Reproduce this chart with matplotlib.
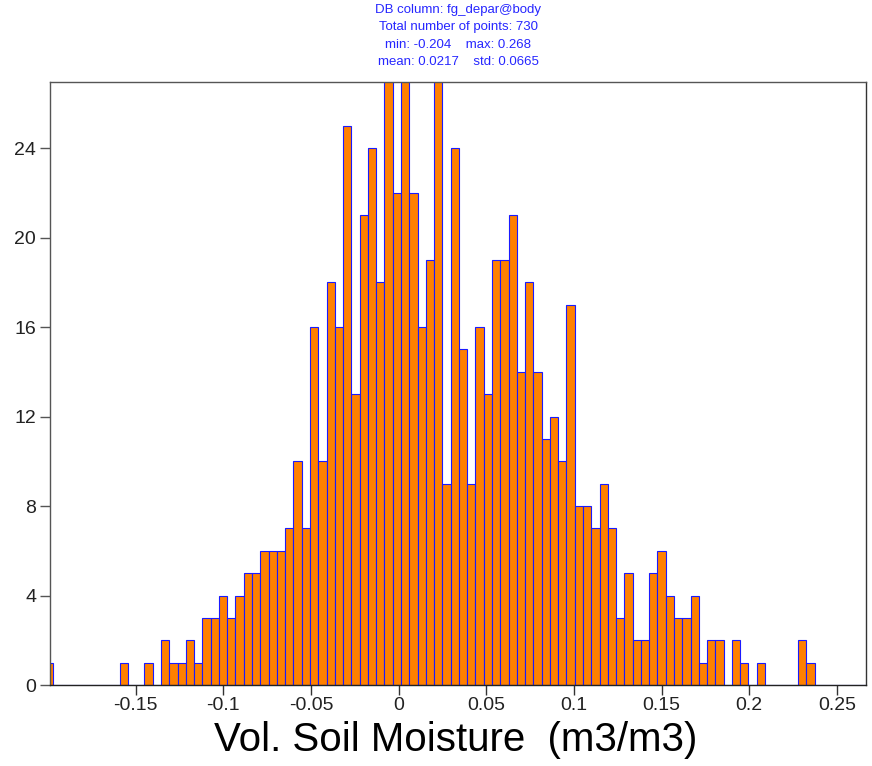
import matplotlib
matplotlib.use("Agg")
import matplotlib.pyplot as plt
from matplotlib import font_manager

# ---- data ----
x_min = -0.204
bin_width = 0.00472
counts = [0, 1, 0, 0, 0, 0, 0, 0, 0, 0,      # k0..k9
          1, 0, 0, 1, 0, 2, 1, 1, 2, 1,      # k10..k19
          3, 3, 4, 3, 4, 5, 5, 6, 6, 6,      # k20..k29
          7, 10, 7, 16, 10, 18, 16, 25, 13, 21,   # k30..k39
          24, 18, 27, 22, 27, 22, 16, 19, 27, 9,  # k40..k49
          24, 15, 9, 16, 13, 19, 19, 21, 14, 18,  # k50..k59
          14, 11, 12, 10, 17, 8, 8, 7, 9, 7,      # k60..k69
          3, 5, 2, 2, 5, 6, 4, 3, 3, 4,           # k70..k79
          1, 2, 2, 0, 2, 1, 0, 1, 0, 0,           # k80..k89
          0, 0, 2, 1, 0, 0, 0, 0, 0, 0,           # k90..k99
          0]                                      # k100
x_ticks = [-0.15, -0.1, -0.05, 0, 0.05, 0.1, 0.15, 0.2, 0.25]
x_tick_labels = ["-0.15", "-0.1", "-0.05", "0", "0.05", "0.1", "0.15", "0.2", "0.25"]
y_ticks = [0, 4, 8, 12, 16, 20, 24]
y_tick_labels = ["0", "4", "8", "12", "16", "20", "24"]
title_lines = ["DB column: fg_depar@body",
               "Total number of points: 730",
               "min: -0.204    max: 0.268",
               "mean: 0.0217    std: 0.0665"]
x_label = "Vol. Soil Moisture  (m3/m3)"

centres = [x_min + k * bin_width for k in range(len(counts))]

names = {f.name for f in font_manager.fontManager.ttflist}
main_font = "Liberation Sans" if "Liberation Sans" in names else "DejaVu Sans"
title_font = "Liberation Sans Narrow" if "Liberation Sans Narrow" in names else main_font
plt.rcParams["font.family"] = [main_font, "DejaVu Sans"]
plt.rcParams["axes.unicode_minus"] = False

W, H = 872, 766
fig = plt.figure(figsize=(W / 100, H / 100), dpi=100)
fig.patch.set_facecolor("white")
ax = fig.add_axes([50 / W, 1 - 685 / H, 816 / W, (685 - 82) / H])

ax.bar(centres, counts, width=bin_width, align="center",
       color="#FF8000", edgecolor="#1a1aff", linewidth=0.8)

ax.set_xlim(-0.1989, 0.2666)
ax.set_ylim(0, 26.95)
ax.set_xticks(x_ticks)
ax.set_xticklabels(x_tick_labels)
ax.set_yticks(y_ticks)
ax.set_yticklabels(y_tick_labels)
ax.tick_params(axis="both", direction="out", length=7, width=1,
               labelsize=14, colors="#222222")
ax.tick_params(axis="y", pad=3, color="#555555")
ax.tick_params(axis="x", pad=2, color="#333333")

for side in ["left", "bottom", "top", "right"]:
    ax.spines[side].set_linewidth(1.0)
ax.spines["left"].set_color("#555555")
ax.spines["bottom"].set_color("#222222")
ax.spines["top"].set_color("#555555")
ax.spines["right"].set_color("#333333")

ax.set_xlabel(x_label, fontsize=29, color="black")
ax.xaxis.label.set_va("center")
ax.xaxis.set_label_coords((456 - 50) / 816, (685 - 740) / 603)

title_size = 10.5 if title_font != main_font else 9.5
for i, line in enumerate(title_lines):
    fig.text(458 / W, 1 - (10 + 17.4 * i) / H, line, ha="center", va="center",
             fontsize=title_size, color="#2626ff",
             family=[title_font, "DejaVu Sans"])

fig.savefig("out.png", dpi=100, facecolor="white")
